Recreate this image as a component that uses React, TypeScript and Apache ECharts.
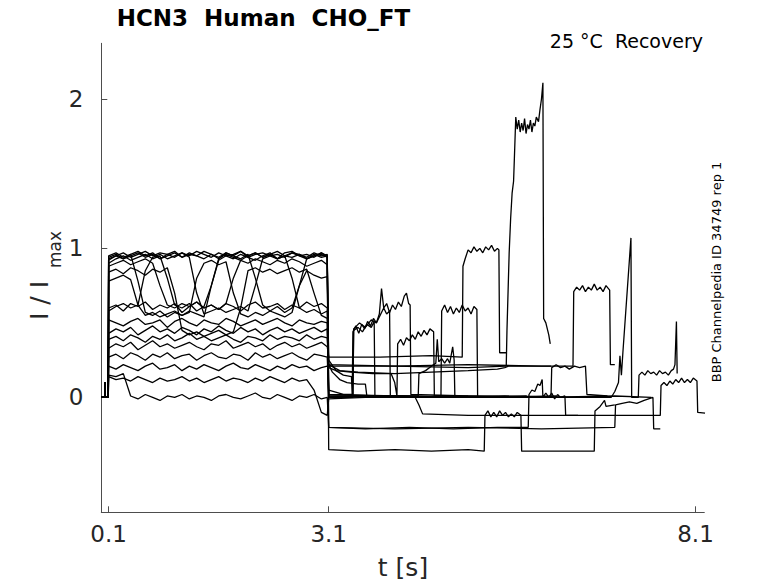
import React, { useEffect, useRef } from "react";
import * as echarts from "echarts";

// ---- axis ticks ----
const X_TICKS = [0.1, 3.1, 8.1];
const Y_TICKS = [0, 1, 2];

// ---- common pre-pulse (holding) segment ----
const PRE: number[][] = [
  [0, 0], [0.045, 0.0], [0.05, 0.1], [0.055, 0.0], [0.095, 0.0],
];

// ---- sample times of the activation step (0.1 s .. 3.1 s) ----
const ACT_T = [
  0.1, 0.2, 0.3, 0.4, 0.5, 0.6, 0.7, 0.8, 0.9, 1.0,
  1.1, 1.2, 1.3, 1.4, 1.5, 1.6, 1.7, 1.8, 1.9, 2.0,
  2.1, 2.2, 2.3, 2.4, 2.5, 2.6, 2.7, 2.8, 2.9, 3.0,
  3.08,
];

// ---- traces: activation values (at ACT_T) + recovery points [t, I/Imax] ----
const T01_ACT = [
  0.93, 0.95, 0.97, 0.94, 0.96, 0.98, 0.95, 0.97, 0.96, 0.94,
  0.97, 0.95, 0.98, 0.96, 0.94, 0.97, 0.95, 0.96, 0.98, 0.95,
  0.97, 0.94, 0.96, 0.98, 0.95, 0.97, 0.96, 0.94, 0.97, 0.95,
  0.96,
];
const T01_REC = [
  [3.1, -0.35], [3.5, -0.36], [4.0, -0.35], [4.5, -0.36], [5.0, -0.35], [5.22, -0.36],
  [5.23, -0.12], [5.27, -0.09], [5.31, -0.13], [5.35, -0.1], [5.39, -0.13], [5.43, -0.09],
  [5.47, -0.12], [5.51, -0.1], [5.55, -0.13], [5.59, -0.11], [5.63, -0.13], [5.67, -0.1], [5.72, -0.12],
  [5.73, -0.36], [6.2, -0.36], [6.72, -0.36], [6.73, -0.09], [6.8, -0.06], [6.86, -0.02],
  [6.88, -0.06], [7.0, -0.05],
];

const T02_ACT = [
  0.9, 0.93, 0.95, 0.92, 0.94, 0.96, 0.93, 0.95, 0.8, 0.62,
  0.6, 0.63, 0.58, 0.61, 0.75, 0.92, 0.95, 0.93, 0.96, 0.94,
  0.92, 0.95, 0.97, 0.93, 0.95, 0.94, 0.96, 0.93, 0.95, 0.97,
  0.94,
];
const T02_REC = [
  [3.1, -0.2], [3.6, -0.21], [4.2, -0.2], [4.8, -0.21], [5.4, -0.2], [5.82, -0.2],
  [5.83, 0.02], [5.87, 0.05], [5.91, 0.04], [5.95, 0.09], [5.98, 0.08], [6.01, 0.12], [6.02, 0.0],
  [6.06, 0.03], [6.1, 0.0], [6.14, 0.03], [6.18, -0.01], [6.22, 0.02], [6.26, 0.0], [6.32, 0.01],
  [6.33, -0.12], [6.5, -0.12],
];

const T03_ACT = [
  0.15, 0.14, 0.16, 0.01, -0.01, 0.02, 0.0, -0.02, 0.01, 0.0,
  0.02, -0.01, 0.01, 0.0, -0.02, 0.01, 0.02, 0.0, -0.01, 0.01,
  0.03, 0.0, -0.01, 0.02, 0.0, -0.02, 0.01, 0.0, 0.02, -0.01,
  0.0,
];
const T03_REC = [
  [3.1, -0.2], [4.0, -0.21], [5.0, -0.2], [6.0, -0.21], [7.0, -0.2],
  [7.01, -0.05], [7.1, -0.04], [7.2, -0.03], [7.3, -0.04], [7.4, -0.02], [7.52, 0.0],
  [7.53, -0.21], [7.62, -0.21],
];

const T04_ACT = [
  0.14, 0.12, 0.13, 0.11, 0.14, 0.12, 0.1, 0.13, 0.11, 0.12,
  0.14, 0.11, 0.13, 0.1, 0.12, 0.14, 0.11, 0.13, 0.12, 0.1,
  0.13, 0.11, 0.14, 0.12, 0.1, 0.13, 0.11, 0.12, 0.05, -0.1,
  -0.12,
];
const T04_REC = [
  [3.1, -0.01], [3.6, 0.0], [4.28, 0.0], [4.33, -0.05], [4.38, -0.11], [5.0, -0.12],
  [6.0, -0.12], [7.0, -0.12], [7.62, -0.12], [7.63, 0.08], [7.67, 0.1], [7.71, 0.08],
  [7.75, 0.11], [7.79, 0.09], [7.83, 0.12], [7.87, 0.1], [7.91, 0.13], [7.95, 0.1],
  [7.99, 0.12], [8.03, 0.1], [8.07, 0.13], [8.12, 0.11], [8.13, -0.1], [8.23, -0.105],
];

const T05_ACT = [
  0.6, 0.62, 0.58, 0.63, 0.61, 0.64, 0.59, 0.62, 0.6, 0.63,
  0.57, 0.61, 0.64, 0.6, 0.62, 0.59, 0.63, 0.61, 0.58, 0.62,
  0.64, 0.6, 0.61, 0.63, 0.59, 0.62, 0.6, 0.64, 0.61, 0.63,
  0.6,
];
const T05_REC = [
  [3.1, 0.22], [4.0, 0.21], [5.0, 0.22], [6.0, 0.21], [6.43, 0.21],
  [6.44, 0.71], [6.48, 0.74], [6.52, 0.72], [6.56, 0.75], [6.6, 0.71], [6.64, 0.74],
  [6.68, 0.72], [6.72, 0.76], [6.76, 0.72], [6.8, 0.74], [6.84, 0.71], [6.88, 0.75], [6.93, 0.72],
  [6.94, 0.22], [7.0, 0.22],
];

const T06_ACT = [
  0.43, 0.46, 0.44, 0.47, 0.42, 0.45, 0.48, 0.44, 0.46, 0.43,
  0.47, 0.45, 0.42, 0.46, 0.44, 0.48, 0.45, 0.43, 0.47, 0.44,
  0.46, 0.42, 0.45, 0.47, 0.44, 0.46, 0.43, 0.45, 0.47, 0.44,
  0.46,
];
const T06_REC = [
  [3.1, 0.0], [4.0, 0.01], [5.0, 0.0], [6.13, 0.0], [6.14, 0.2], [6.2, 0.22], [6.26, 0.2],
  [6.32, 0.21], [6.38, 0.19], [6.45, 0.21], [6.52, 0.2], [6.6, 0.21], [6.62, 0.02], [6.9, 0.01],
];

const T07_ACT = [
  0.33, 0.36, 0.34, 0.37, 0.32, 0.35, 0.38, 0.34, 0.36, 0.33,
  0.35, 0.37, 0.34, 0.32, 0.36, 0.35, 0.38, 0.33, 0.35, 0.37,
  0.34, 0.36, 0.32, 0.35, 0.37, 0.34, 0.36, 0.33, 0.35, 0.37,
  0.34,
];
const T07_REC = [
  [3.1, 0.27], [3.8, 0.27], [4.5, 0.28], [4.92, 0.27], [4.93, 0.88], [4.96, 0.93],
  [5.0, 0.99], [5.04, 0.97], [5.08, 1.01], [5.12, 0.98], [5.16, 1.0], [5.2, 0.97],
  [5.24, 1.01], [5.28, 0.99], [5.32, 1.02], [5.36, 0.98], [5.4, 1.0], [5.42, 0.99],
  [5.43, 0.3], [5.52, 0.3],
];

const T08_ACT = [
  0.92, 0.95, 0.93, 0.96, 0.78, 0.57, 0.55, 0.58, 0.54, 0.57,
  0.55, 0.58, 0.56, 0.54, 0.75, 0.93, 0.96, 0.94, 0.92, 0.95,
  0.97, 0.94, 0.96, 0.93, 0.95, 0.8, 0.6, 0.57, 0.59, 0.56,
  0.58,
];
const T08_REC = [
  [3.1, 0.21], [4.0, 0.21], [5.0, 0.2], [5.52, 0.21], [5.53, 0.45], [5.56, 0.97],
  [5.58, 1.2], [5.6, 1.37], [5.62, 1.45], [5.63, 1.59], [5.65, 1.88], [5.67, 1.8],
  [5.69, 1.86], [5.71, 1.78], [5.73, 1.84], [5.75, 1.79], [5.77, 1.87], [5.79, 1.77],
  [5.81, 1.83], [5.83, 1.8], [5.85, 1.86], [5.87, 1.78], [5.89, 1.84], [5.91, 1.82],
  [5.93, 1.88], [5.96, 1.85], [5.98, 1.93], [6.0, 2.0], [6.02, 2.11], [6.03, 0.53],
  [6.06, 0.5], [6.1, 0.42], [6.12, 0.36],
];

const T09_ACT = [
  0.88, 0.9, 0.92, 0.89, 0.91, 0.93, 0.9, 0.75, 0.62, 0.6,
  0.63, 0.61, 0.64, 0.6, 0.62, 0.59, 0.63, 0.8, 0.92, 0.9,
  0.93, 0.91, 0.89, 0.92, 0.9, 0.93, 0.91, 0.88, 0.9, 0.92,
  0.89,
];
const T09_REC = [
  [3.1, 0.25], [3.2, 0.18], [3.3, 0.15], [3.41, 0.14], [3.42, 0.02], [3.43, 0.44],
  [3.47, 0.48], [3.51, 0.43], [3.55, 0.49], [3.59, 0.46], [3.63, 0.51], [3.67, 0.48],
  [3.71, 0.53], [3.75, 0.5], [3.79, 0.56], [3.82, 0.73], [3.85, 0.6], [3.89, 0.63],
  [3.93, 0.57], [3.97, 0.62], [4.01, 0.59], [4.05, 0.64], [4.09, 0.61], [4.13, 0.68],
  [4.16, 0.7], [4.19, 0.63], [4.21, 0.62], [4.22, 0.02],
  [5.0, 0.01], [6.0, 0.0], [6.95, 0.0], [7.0, 0.04], [7.05, 0.1], [7.07, 0.28],
  [7.09, 0.15], [7.11, 0.3], [7.22, 1.07], [7.23, 0.0], [7.32, 0.0], [7.33, 0.15],
  [7.37, 0.17], [7.41, 0.15], [7.45, 0.18], [7.49, 0.16], [7.53, 0.17], [7.57, 0.15],
  [7.61, 0.18], [7.65, 0.16], [7.69, 0.17], [7.73, 0.15], [7.77, 0.18], [7.8, 0.19],
  [7.82, 0.22], [7.84, 0.51], [7.85, 0.16],
];

const T10_ACT = [
  0.94, 0.96, 0.93, 0.95, 0.97, 0.94, 0.96, 0.93, 0.95, 0.97,
  0.94, 0.96, 0.95, 0.93, 0.96, 0.94, 0.97, 0.95, 0.93, 0.96,
  0.8, 0.62, 0.58, 0.61, 0.57, 0.6, 0.75, 0.93, 0.95, 0.96,
  0.94,
];
const T10_REC = [
  [3.1, 0.05], [3.3, 0.02], [3.43, 0.02], [3.44, 0.45], [3.5, 0.47], [3.56, 0.44],
  [3.62, 0.49], [3.68, 0.47], [3.72, 0.51], [3.73, 0.01], [4.5, 0.0], [5.5, 0.01], [6.5, 0.0],
];

const T11_ACT = [
  0.52, 0.5, 0.48, 0.51, 0.53, 0.49, 0.5, 0.52, 0.47, 0.51,
  0.53, 0.5, 0.48, 0.52, 0.5, 0.49, 0.53, 0.51, 0.48, 0.5,
  0.52, 0.49, 0.51, 0.53, 0.5, 0.48, 0.52, 0.5, 0.49, 0.51,
  0.5,
];
const T11_REC = [
  [3.1, 0.0], [3.43, 0.0], [3.44, 0.46], [3.52, 0.5], [3.6, 0.47], [3.68, 0.52],
  [3.75, 0.5], [3.85, 0.6], [3.89, 0.56], [3.93, 0.58], [3.94, 0.01], [5.0, 0.0], [6.2, 0.01],
];

const T12_ACT = [
  0.21, 0.19, 0.22, 0.2, 0.18, 0.21, 0.23, 0.19, 0.2, 0.22,
  0.18, 0.21, 0.19, 0.22, 0.2, 0.18, 0.21, 0.23, 0.2, 0.19,
  0.22, 0.2, 0.18, 0.21, 0.19, 0.22, 0.2, 0.21, 0.18, 0.2,
  0.21,
];
const T12_REC = [
  [3.1, 0.2], [3.2, 0.18], [3.4, 0.17], [3.7, 0.16], [3.95, 0.16], [4.0, 0.1],
  [4.03, 0.01], [4.04, 0.36], [4.08, 0.39], [4.12, 0.35], [4.16, 0.4], [4.2, 0.38],
  [4.24, 0.42], [4.28, 0.39], [4.32, 0.44], [4.36, 0.41], [4.4, 0.45], [4.44, 0.42],
  [4.48, 0.46], [4.53, 0.44], [4.54, 0.01], [4.6, 0.01],
];

const T13_ACT = [
  0.84, 0.86, 0.83, 0.87, 0.85, 0.82, 0.86, 0.84, 0.87, 0.7,
  0.45, 0.42, 0.44, 0.41, 0.43, 0.45, 0.42, 0.44, 0.6, 0.85,
  0.87, 0.84, 0.86, 0.83, 0.85, 0.87, 0.84, 0.86, 0.7, 0.55,
  0.53,
];
const T13_REC = [
  [3.1, 0.01], [4.0, 0.0], [4.63, 0.0], [4.64, 0.58], [4.68, 0.62], [4.72, 0.57],
  [4.76, 0.61], [4.8, 0.56], [4.84, 0.6], [4.88, 0.57], [4.92, 0.62], [4.96, 0.58],
  [5.0, 0.6], [5.04, 0.56], [5.08, 0.61], [5.12, 0.59], [5.13, 0.0], [5.6, 0.0],
];

const T14_ACT = [
  0.27, 0.29, 0.26, 0.3, 0.28, 0.25, 0.29, 0.27, 0.3, 0.26,
  0.28, 0.29, 0.25, 0.28, 0.3, 0.27, 0.26, 0.29, 0.28, 0.25,
  0.3, 0.27, 0.29, 0.26, 0.28, 0.3, 0.27, 0.25, 0.29, 0.28,
  0.27,
];
const T14_REC = [
  [3.1, 0.02], [3.8, 0.01], [4.32, 0.01], [4.33, 0.16], [4.42, 0.18], [4.5, 0.21],
  [4.56, 0.23], [4.58, 0.39], [4.6, 0.24], [4.64, 0.26], [4.68, 0.23], [4.72, 0.26],
  [4.75, 0.23], [4.79, 0.34], [4.81, 0.25], [4.82, 0.0], [5.3, 0.0],
];

const T15_ACT = [
  0.39, 0.41, 0.38, 0.42, 0.4, 0.37, 0.41, 0.39, 0.42, 0.38,
  0.4, 0.43, 0.39, 0.41, 0.38, 0.4, 0.42, 0.39, 0.37, 0.41,
  0.4, 0.38, 0.42, 0.39, 0.41, 0.4, 0.38, 0.42, 0.39, 0.41,
  0.4,
];
const T15_REC = [
  [3.1, 0.22], [3.15, 0.17], [3.25, 0.12], [3.35, 0.1], [3.5, 0.09], [3.6, 0.09],
  [3.62, 0.01], [4.5, 0.0], [5.8, 0.01],
];

const T16_ACT = [
  0.58, 0.61, 0.63, 0.6, 0.62, 0.85, 0.94, 0.96, 0.93, 0.95,
  0.97, 0.94, 0.7, 0.56, 0.58, 0.6, 0.57, 0.59, 0.61, 0.58,
  0.75, 0.93, 0.95, 0.96, 0.94, 0.97, 0.95, 0.93, 0.96, 0.94,
  0.95,
];
const T16_REC = [
  [3.1, 0.22], [3.25, 0.18], [3.5, 0.17], [4.0, 0.16], [4.5, 0.17], [5.0, 0.18],
  [5.4, 0.19], [5.5, 0.2], [5.55, 0.21], [6.0, 0.21], [6.13, 0.21],
];

const T17_ACT = [
  0.95, 0.97, 0.94, 0.96, 0.98, 0.95, 0.97, 0.93, 0.96, 0.98,
  0.94, 0.97, 0.95, 0.98, 0.96, 0.93, 0.97, 0.95, 0.98, 0.94,
  0.96, 0.97, 0.95, 0.93, 0.97, 0.98, 0.95, 0.96, 0.94, 0.97,
  0.95,
];
const T17_REC = [
  [3.1, 0.01], [4.0, 0.0], [5.0, 0.01], [6.0, 0.0], [7.0, 0.01], [7.5, 0.0],
];

const T18_ACT = [
  0.78, 0.8, 0.82, 0.79, 0.62, 0.55, 0.57, 0.54, 0.56, 0.58,
  0.55, 0.57, 0.8, 0.9, 0.92, 0.89, 0.91, 0.7, 0.56, 0.54,
  0.57, 0.55, 0.58, 0.56, 0.54, 0.57, 0.75, 0.85, 0.82, 0.8,
  0.81,
];
const T18_REC = [
  [3.1, 0.02], [4.0, 0.01], [5.0, 0.0],
];

const TRACES: [number[], number[][]][] = [
  [T01_ACT, T01_REC], [T02_ACT, T02_REC], [T03_ACT, T03_REC], [T04_ACT, T04_REC],
  [T05_ACT, T05_REC], [T06_ACT, T06_REC], [T07_ACT, T07_REC], [T08_ACT, T08_REC],
  [T09_ACT, T09_REC], [T10_ACT, T10_REC], [T11_ACT, T11_REC], [T12_ACT, T12_REC],
  [T13_ACT, T13_REC], [T14_ACT, T14_REC], [T15_ACT, T15_REC], [T16_ACT, T16_REC],
  [T17_ACT, T17_REC], [T18_ACT, T18_REC],
];

const FONT = "DejaVu Sans";

export default function App() {
  const ref = useRef<HTMLDivElement>(null);

  useEffect(() => {
    document.body.style.margin = "0";
    if (!ref.current) return;
    const chart = echarts.init(ref.current, null, { renderer: "svg" });

    const series = TRACES.map(([act, rec], k) => ({
      type: "line",
      name: "trace" + (k + 1),
      data: [...PRE, ...ACT_T.map((t, i) => [t, act[i]]), ...rec],
      showSymbol: false,
      symbol: "none",
      silent: true,
      lineStyle: { color: "#000", width: 1.3 },
      z: 2,
    }));

    chart.setOption({
      animation: false,
      backgroundColor: "#fff",
      grid: { left: 101.3, right: 73.7, top: 43.3, bottom: 70.7, containLabel: false },
      xAxis: {
        type: "value",
        min: 0,
        max: 8.22,
        axisLine: { show: true, onZero: false, lineStyle: { color: "#4d4d4d", width: 1 } },
        axisTick: { show: true, inside: true, length: 6, customValues: X_TICKS, lineStyle: { color: "#4d4d4d" } },
        axisLabel: { customValues: X_TICKS, fontSize: 23, color: "#262626", fontFamily: FONT, margin: 10 },
        splitLine: { show: false },
      },
      yAxis: {
        type: "value",
        min: -0.77,
        max: 2.375,
        axisLine: { show: true, onZero: false, lineStyle: { color: "#4d4d4d", width: 1 } },
        axisTick: { show: true, inside: true, length: 6, customValues: Y_TICKS, lineStyle: { color: "#4d4d4d" } },
        axisLabel: { customValues: Y_TICKS, fontSize: 23, color: "#262626", fontFamily: FONT, margin: 18 },
        splitLine: { show: false },
      },
      graphic: [
        {
          type: "text", left: 116.7, top: 6,
          style: { text: "HCN3  Human  CHO_FT", font: `bold 23px "${FONT}"`, fill: "#000" },
        },
        {
          type: "text", x: 703, y: 41,
          style: { text: "25 °C  Recovery", font: `19px "${FONT}"`, fill: "#000", textAlign: "right", textVerticalAlign: "middle" },
        },
        {
          type: "text", x: 716.7, y: 272, rotation: Math.PI / 2,
          style: { text: "BBP Channelpedia ID 34749 rep 1", font: `13px "${FONT}"`, fill: "#000", textAlign: "center", textVerticalAlign: "middle" },
        },
        {
          type: "text", x: 39, y: 320, rotation: Math.PI / 2,
          style: { text: "I / I", font: `25px "${FONT}"`, fill: "#262626", textAlign: "left", textVerticalAlign: "middle" },
        },
        {
          type: "text", x: 55, y: 268, rotation: Math.PI / 2,
          style: { text: "max", font: `17px "${FONT}"`, fill: "#262626", textAlign: "left", textVerticalAlign: "middle" },
        },
        {
          type: "text", x: 403, y: 567,
          style: { text: "t [s]", font: `25px "${FONT}"`, fill: "#262626", textAlign: "center", textVerticalAlign: "middle" },
        },
      ],
      series,
    });

    return () => chart.dispose();
  }, []);

  return <div ref={ref} style={{ width: 778, height: 583 }} />;
}
